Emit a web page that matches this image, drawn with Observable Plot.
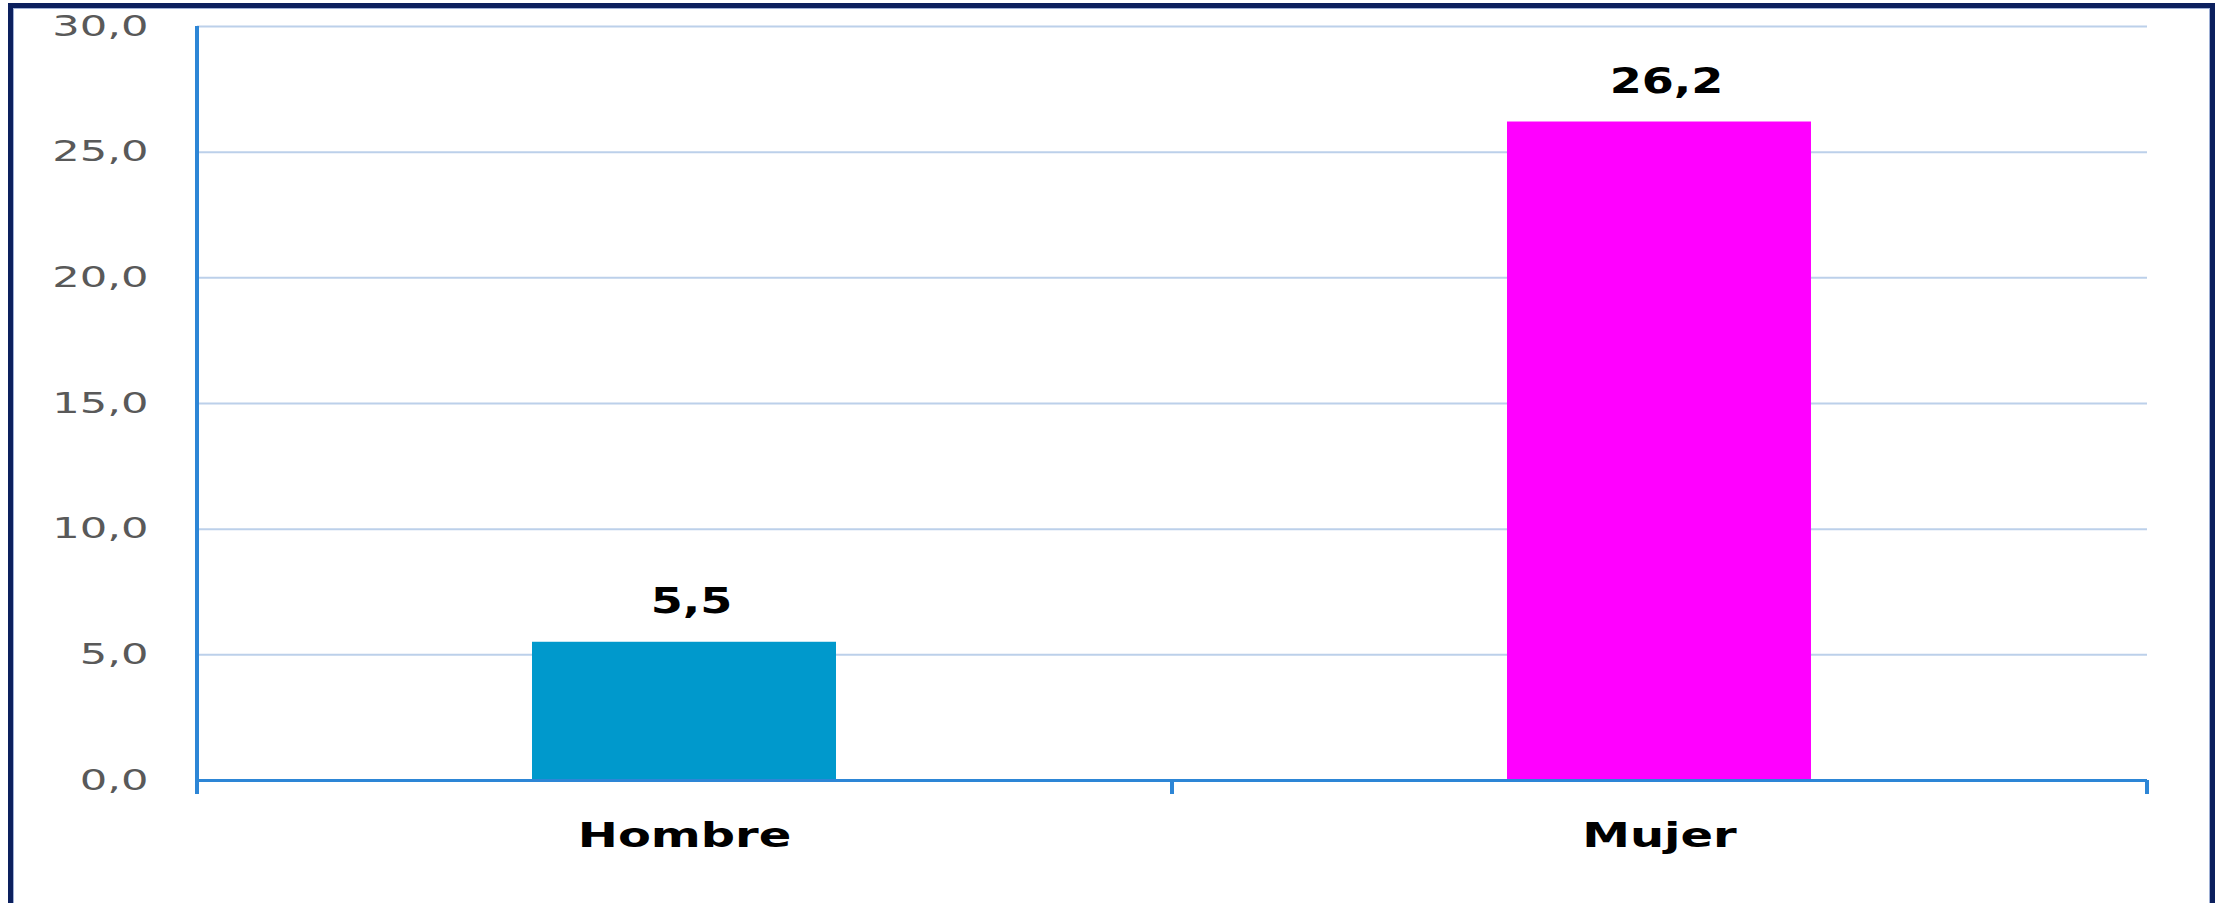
<!DOCTYPE html>
<html>
<head>
<meta charset="utf-8">
<script src="https://cdn.jsdelivr.net/npm/d3@7"></script>
<script src="https://cdn.jsdelivr.net/npm/@observablehq/plot@0.6"></script>
<style>
  html, body { margin: 0; padding: 0; background: #ffffff; overflow: hidden; width: 2221px; height: 903px; }
  #frame { position: absolute; left: 8px; top: 3px; width: 2207px; height: 1000px; box-sizing: border-box;
           border: 5px solid #0c205e; border-bottom: none; box-shadow: inset 1px 1px 0 #9fb0d6, inset -1px 0 0 #9fb0d6; }
  #chart { position: absolute; left: 0; top: 0; }
</style>
</head>
<body>
<div id="frame"></div>
<div id="chart"></div>
<script>
// ---- data ----
const categories = ["Hombre", "Mujer"];
const values = [5.5, 26.2];
const barColors = ["#0099cc", "#ff00ff"];
const yTicks = [0, 5, 10, 15, 20, 25, 30];

const data = categories.map((c, i) => ({cat: c, value: values[i]}));

// ---- layout ----
const W = 2221, H = 903;
const mLeft = 197, mRight = 74, mTop = 26, mBottom = 123;
const step = (W - mLeft - mRight) / categories.length;
const yMax = yTicks[yTicks.length - 1];
const fmt = d => d.toFixed(1).replace(".", ",");
const axisBlue = "#2d86d6";
const gridBlue = "#bcd0ea";
const FONT = "DejaVu Sans";

const chart = Plot.plot({
  width: W,
  height: H,
  marginLeft: mLeft,
  marginRight: mRight,
  marginTop: mTop,
  marginBottom: mBottom,
  style: {background: "transparent", overflow: "visible"},
  x: {domain: categories, paddingInner: 0.688, paddingOuter: 0.344, axis: null},
  y: {domain: [0, yMax], axis: null},
  color: {domain: categories, range: barColors},
  marks: [
    Plot.ruleY(yTicks.filter(d => d > 0), {stroke: gridBlue, strokeWidth: 2}),
    Plot.barY(data, {x: "cat", y: "value", fill: "cat"}),
    Plot.ruleY([0], {stroke: axisBlue, strokeWidth: 3}),
    // vertical axis line
    Plot.ruleX([categories[0]], {x: d => d, dx: -step / 2, y1: yMax, y2: 0, insetBottom: -14, stroke: axisBlue, strokeWidth: 4}),
    // category boundary ticks
    Plot.ruleX(categories, {x: d => d, dx: step / 2, y1: 0, y2: 0, insetBottom: -14, stroke: axisBlue, strokeWidth: 4}),
    Plot.axisY({ticks: yTicks, tickFormat: fmt, tickSize: 0, tickPadding: 49,
      fontSize: 29, fill: "#595959", fontFamily: FONT, label: null}),
    Plot.axisX({tickSize: 0, tickPadding: 42, fontSize: 34, fontWeight: "bold",
      fill: "#000000", fontFamily: FONT, label: null}),
    Plot.text(data, {x: "cat", y: "value", text: d => fmt(d.value), lineAnchor: "bottom", dy: -29, dx: 7,
      fontSize: 36, fontWeight: "bold", fill: "#000000", fontFamily: FONT})
  ]
});

document.getElementById("chart").appendChild(chart);

// widen glyphs horizontally like the stretched original (uniform factor per group);
// natural widths measured with a canvas in the same font
const ctx = document.createElement("canvas").getContext("2d");
function stretch(sel, font, factor) {
  ctx.font = font;
  chart.querySelectorAll(sel).forEach(t => {
    const n = ctx.measureText(t.textContent).width;
    t.setAttribute("textLength", (n * factor).toFixed(2));
    t.setAttribute("lengthAdjust", "spacingAndGlyphs");
  });
}
stretch('g[aria-label="y-axis tick label"] text', `29px "${FONT}"`, 1.49);
stretch('g[aria-label="x-axis tick label"] text', `bold 34px "${FONT}"`, 1.41);
stretch('g[aria-label="text"] text', `bold 36px "${FONT}"`, 1.28);
</script>
</body>
</html>
